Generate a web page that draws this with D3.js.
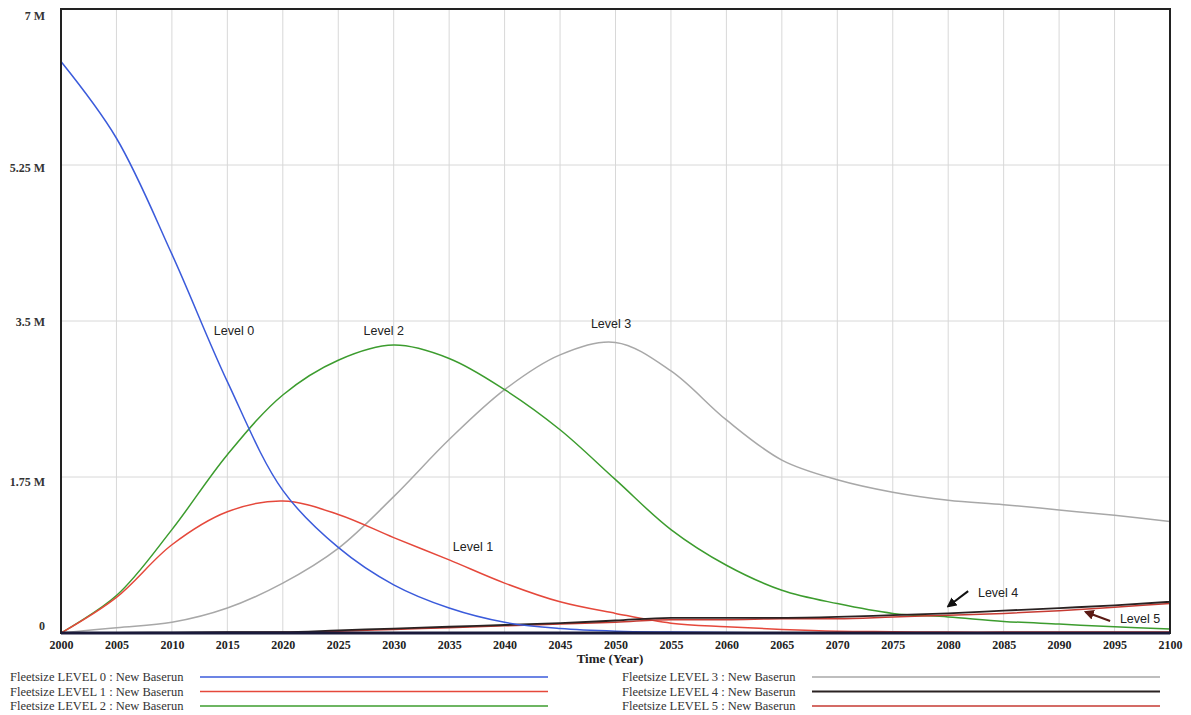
<!DOCTYPE html>
<html>
<head>
<meta charset="utf-8">
<script src="https://cdn.jsdelivr.net/npm/d3@7"></script>
<style>
  body { margin: 0; background: #fff; }
  svg { display: block; }
</style>
</head>
<body>
<svg id="chart" width="1191" height="715"></svg>
<script>
// ---- Data (values in millions) ----
const years = [2000,2005,2010,2015,2020,2025,2030,2035,2040,2045,2050,2055,2060,2065,2070,2075,2080,2085,2090,2095,2100];
const level0 = [6.41,5.55,4.25,2.82,1.60,0.96,0.54,0.28,0.12,0.05,0.02,0.01,0.005,0.003,0.002,0.001,0.001,0.001,0.001,0.001,0.001];
const level1 = [0,0.40,0.99,1.36,1.48,1.33,1.07,0.82,0.56,0.35,0.22,0.11,0.07,0.04,0.02,0.015,0.01,0.01,0.01,0.01,0.01];
const level2 = [0,0.42,1.16,2.00,2.67,3.06,3.23,3.08,2.73,2.28,1.72,1.16,0.76,0.48,0.33,0.22,0.18,0.13,0.10,0.07,0.045];
const level3 = [0,0.06,0.12,0.28,0.56,0.95,1.53,2.17,2.73,3.12,3.26,2.94,2.39,1.94,1.72,1.58,1.49,1.44,1.38,1.32,1.25];
const level4 = [0,0,0.005,0.01,0.01,0.03,0.05,0.07,0.09,0.11,0.14,0.17,0.17,0.17,0.18,0.20,0.22,0.25,0.28,0.31,0.35];
const level5 = [0,0,0.003,0.005,0.008,0.02,0.04,0.06,0.08,0.10,0.12,0.15,0.15,0.16,0.16,0.18,0.20,0.22,0.25,0.29,0.33];

const seriesNames = ["Fleetsize LEVEL 0 : New Baserun","Fleetsize LEVEL 1 : New Baserun","Fleetsize LEVEL 2 : New Baserun",
                     "Fleetsize LEVEL 3 : New Baserun","Fleetsize LEVEL 4 : New Baserun","Fleetsize LEVEL 5 : New Baserun"];
const seriesColors = ["#3b5bdb","#e5483b","#3c9c2e","#a8a8a8","#2a2222","#c63a32"];
const yTickValues = [0,1.75,3.5,5.25,7];
const yTickLabels = ["0","1.75 M","3.5 M","5.25 M","7 M"];
const xTickValues = d3.range(2000,2101,5);

const annotations = [
  {text:"Level 0", year:2015.6, value:3.34},
  {text:"Level 2", year:2029.1, value:3.34},
  {text:"Level 3", year:2049.6, value:3.42},
  {text:"Level 1", year:2037.15, value:0.92},
  {text:"Level 4", year:2084.5, value:0.40},
  {text:"Level 5", year:2097.3, value:0.11}
];

// ---- Layout ----
const svg = d3.select("#chart");
const L = 61, R = 1170, T = 9, B = 633;
const x = d3.scaleLinear().domain([2000,2100]).range([L,R]);
const y = d3.scaleLinear().domain([0,7]).range([B,T]);

// gridlines
const g = svg.append("g");
g.selectAll("line.vg").data(xTickValues.slice(1,-1)).enter().append("line")
  .attr("x1",d=>x(d)).attr("x2",d=>x(d)).attr("y1",T).attr("y2",B)
  .attr("stroke","#d8d8d8").attr("stroke-width",1);
g.selectAll("line.hg").data(yTickValues.slice(1,-1)).enter().append("line")
  .attr("x1",L).attr("x2",R).attr("y1",d=>y(d)).attr("y2",d=>y(d))
  .attr("stroke","#d8d8d8").attr("stroke-width",1);

// series
const all = [level0,level1,level2,level3,level4,level5];
const smooth = d3.line().x((d,i)=>x(years[i])).y(d=>y(Math.max(0,d))).curve(d3.curveCatmullRom.alpha(0.5));
const stepish = d3.line().x((d,i)=>x(years[i])).y(d=>y(d)).curve(d3.curveMonotoneX);
const order = [3,2,1,5,4,0];
svg.append("clipPath").attr("id","plotclip").append("rect").attr("x",L).attr("y",T).attr("width",R-L).attr("height",B-T);
const plot = svg.append("g").attr("clip-path","url(#plotclip)");
order.forEach(k=>{
  plot.append("path").datum(all[k]).attr("d", k>=4 ? stepish : smooth)
    .attr("fill","none").attr("stroke",seriesColors[k])
    .attr("stroke-width", k===4 ? 1.8 : 1.5);
});

// frame
svg.append("rect").attr("x",L).attr("y",T).attr("width",R-L).attr("height",B-T)
  .attr("fill","none").attr("stroke","#222").attr("stroke-width",2);
svg.append("line").attr("x1",L).attr("x2",R).attr("y1",B).attr("y2",B)
  .attr("stroke","#1a1a3a").attr("stroke-width",3);

// axes
const xAxis = svg.append("g").attr("transform",`translate(0,${B})`)
  .call(d3.axisBottom(x).tickValues(xTickValues).tickFormat(d3.format("d")).tickSize(0).tickPadding(7));
xAxis.select(".domain").remove();
xAxis.selectAll("text").attr("font-family","'Liberation Serif','DejaVu Serif',serif")
  .attr("font-size",12).attr("font-weight","bold").attr("fill","#222");

const yLabelNudge = [-7,5,1,3,7];
const yAxis = svg.append("g").attr("transform",`translate(${L},0)`)
  .call(d3.axisLeft(y).tickValues(yTickValues).tickFormat((d,i)=>yTickLabels[i]).tickSize(0).tickPadding(16));
yAxis.select(".domain").remove();
yAxis.selectAll("text").attr("font-family","'Liberation Serif','DejaVu Serif',serif")
  .attr("font-size",12).attr("font-weight","bold").attr("fill","#333")
  .attr("transform",(d,i)=>`translate(0,${yLabelNudge[i]})`).attr("dy","0.32em");

svg.append("text").attr("x",x(2049.5)).attr("y",663).attr("text-anchor","middle")
  .attr("font-family","'Liberation Serif','DejaVu Serif',serif").attr("font-size",13).attr("font-weight","bold")
  .attr("fill","#222").text("Time (Year)");

// annotations
svg.selectAll("text.ann").data(annotations).enter().append("text")
  .attr("x",d=>x(d.year)).attr("y",d=>y(d.value)).attr("text-anchor","middle")
  .attr("font-family","'Liberation Sans',Arial,sans-serif").attr("font-size",12.5).attr("fill","#222")
  .text(d=>d.text);

// arrows
const defs = svg.append("defs");
[["ah4","#111"],["ah5","#5a1a14"]].forEach(([id,c])=>{
  defs.append("marker").attr("id",id).attr("viewBox","0 0 10 10").attr("refX",8).attr("refY",5)
    .attr("markerWidth",5).attr("markerHeight",5).attr("orient","auto")
    .append("path").attr("d","M0,0L10,5L0,10z").attr("fill",c);
});
svg.append("line").attr("x1",x(2081.8)).attr("y1",y(0.47)).attr("x2",x(2080.0)).attr("y2",y(0.30))
  .attr("stroke","#111").attr("stroke-width",2).attr("marker-end","url(#ah4)");
svg.append("line").attr("x1",x(2094.6)).attr("y1",y(0.135)).attr("x2",x(2092.4)).attr("y2",y(0.235))
  .attr("stroke","#5a1a14").attr("stroke-width",2).attr("marker-end","url(#ah5)");

// legend
const legend = svg.append("g");
seriesNames.forEach((name,i)=>{
  const col = Math.floor(i/3), row = i%3;
  const tx = col===0 ? 10 : 622, lx1 = col===0 ? 200 : 812, lx2 = col===0 ? 548 : 1160;
  const ty = 677 + row*14.5;
  legend.append("text").attr("x",tx).attr("y",ty+4).attr("font-family","'Liberation Serif','DejaVu Serif',serif")
    .attr("font-size",12.5).attr("fill","#333").text(name);
  legend.append("line").attr("x1",lx1).attr("x2",lx2).attr("y1",ty).attr("y2",ty)
    .attr("stroke",seriesColors[i]).attr("stroke-width", i===4 ? 2 : 1.5);
});
</script>
</body>
</html>
